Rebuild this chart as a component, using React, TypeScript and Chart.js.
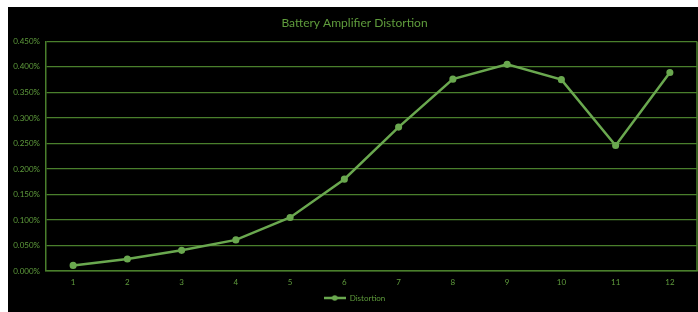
import React, { useEffect, useRef } from "react";
import { Chart, registerables } from "chart.js";

Chart.register(...registerables);

const categories = ["1", "2", "3", "4", "5", "6", "7", "8", "9", "10", "11", "12"];
const distortion = [0.011, 0.0235, 0.0405, 0.061, 0.105, 0.18, 0.282, 0.376, 0.405, 0.375, 0.246, 0.389];
const seriesName = "Distortion";
const titleText = "Battery Amplifier Distortion";

const LINE = "#6aa84f";
const GRID = "#4a7f2c";
const TEXT = "#5f9c3c";
const FONT = "Lato, 'Open Sans', 'Liberation Sans', sans-serif";

function makeLegendMarker(): HTMLCanvasElement {
  const c = document.createElement("canvas");
  c.width = 22;
  c.height = 8;
  const ctx = c.getContext("2d")!;
  ctx.strokeStyle = LINE;
  ctx.lineWidth = 2.5;
  ctx.beginPath();
  ctx.moveTo(0, 4);
  ctx.lineTo(22, 4);
  ctx.stroke();
  ctx.fillStyle = LINE;
  ctx.beginPath();
  ctx.arc(11, 4, 2.8, 0, Math.PI * 2);
  ctx.fill();
  return c;
}

export default function App() {
  const ref = useRef<HTMLCanvasElement>(null);
  useEffect(() => {
    if (!ref.current) return;
    const marker = makeLegendMarker();
    const chart = new Chart(ref.current, {
      type: "line",
      data: {
        labels: categories,
        datasets: [
          {
            label: seriesName,
            data: distortion,
            borderColor: LINE,
            backgroundColor: LINE,
            borderWidth: 2.5,
            pointRadius: 2.3,
            pointBackgroundColor: LINE,
            pointBorderColor: LINE,
            tension: 0,
          },
        ],
      },
      options: {
        animation: false,
        responsive: false,
        maintainAspectRatio: false,
        layout: { autoPadding: false, padding: { top: 0, right: 1, bottom: 0, left: 4 } },
        plugins: {
          title: {
            display: true,
            text: titleText,
            color: TEXT,
            font: { family: FONT, size: 12, weight: "normal" },
            padding: { top: 9, bottom: 11 },
          },
          legend: {
            position: "bottom",
            labels: {
              color: TEXT,
              font: { family: FONT, size: 8 },
              usePointStyle: true,
              pointStyleWidth: 22,
              padding: 1,
              generateLabels: (ch: any) =>
                ch.data.datasets.map((ds: any, i: number) => ({
                  text: ds.label,
                  fillStyle: LINE,
                  strokeStyle: LINE,
                  fontColor: TEXT,
                  pointStyle: marker,
                  datasetIndex: i,
                  hidden: false,
                  lineWidth: 0,
                })),
            },
          },
          tooltip: { enabled: false },
        },
        scales: {
          x: {
            offset: true,
            grid: { display: false, drawTicks: false },
            border: { display: true, color: GRID, width: 1.5 },
            ticks: {
              color: TEXT,
              padding: 7,
              font: { family: FONT, size: 8 },
              maxRotation: 0,
            },
            afterFit: (s: any) => {
              s.height = 22;
            },
          },
          y: {
            min: 0,
            max: 0.45,
            ticks: {
              stepSize: 0.05,
              color: TEXT,
              padding: 6,
              font: { family: FONT, size: 8 },
              callback: (v: any) => Number(v).toFixed(3) + "%",
            },
            grid: { color: GRID, lineWidth: 1.2, drawTicks: false },
            border: { display: true, color: GRID, width: 1.5 },
            afterFit: (s: any) => {
              s.width = 34;
            },
          },
        },
      },
      plugins: [
        {
          id: "rightBorder",
          afterDraw: (ch: any) => {
            const { ctx, chartArea } = ch;
            ctx.save();
            ctx.strokeStyle = GRID;
            ctx.lineWidth = 1.5;
            ctx.beginPath();
            ctx.moveTo(chartArea.right, chartArea.top);
            ctx.lineTo(chartArea.right, chartArea.bottom);
            ctx.stroke();
            ctx.restore();
          },
        },
      ],
    } as any);
    return () => chart.destroy();
  }, []);
  return (
    <div style={{ position: "absolute", left: 8, top: 7, width: 690, height: 305, background: "#000" }}>
      <canvas ref={ref} width={690} height={305} style={{ display: "block" }} />
    </div>
  );
}
